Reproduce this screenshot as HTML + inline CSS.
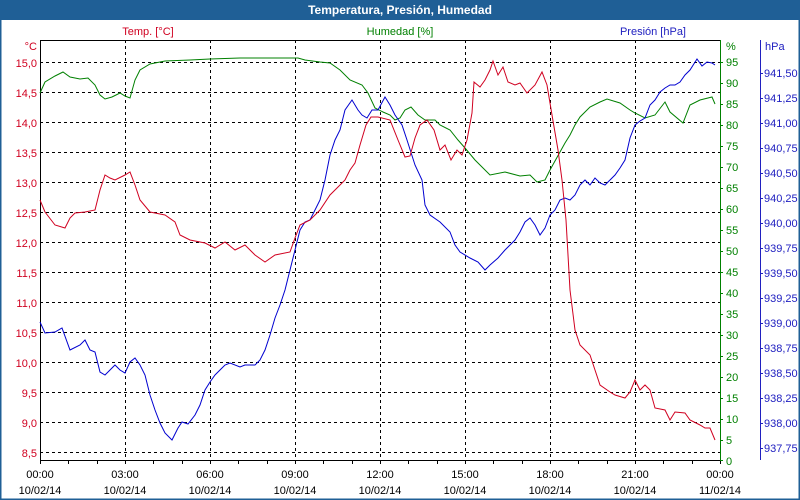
<!DOCTYPE html>
<html><head><meta charset="utf-8"><style>
html,body{margin:0;padding:0;background:#fff;}
svg{display:block;font-family:"Liberation Sans",Tahoma,sans-serif;font-size:11px;}
</style></head><body>
<svg width="800" height="500" viewBox="0 0 800 500" xmlns="http://www.w3.org/2000/svg">
<rect x="0" y="0" width="800" height="500" fill="#fff"/>
<rect x="0" y="0" width="800" height="20" fill="#1f5f96"/>
<rect x="0.5" y="0.5" width="799" height="499" fill="none" stroke="#1f5f96" stroke-width="2"/>
<text x="400" y="14" text-anchor="middle" fill="#fff" font-weight="bold" font-size="12">Temperatura, Presión, Humedad</text>

<text x="148" y="35" text-anchor="middle" fill="#d00020">Temp. [°C]</text>
<text x="400" y="35" text-anchor="middle" fill="#008000">Humedad [%]</text>
<text x="686" y="35" text-anchor="end" fill="#2020c0">Presión [hPa]</text>

<g stroke="#000" stroke-dasharray="3,3" stroke-width="1">
<line x1="40" x2="720" y1="62.5" y2="62.5"/><line x1="40" x2="720" y1="92.5" y2="92.5"/>
<line x1="40" x2="720" y1="122.5" y2="122.5"/><line x1="40" x2="720" y1="152.5" y2="152.5"/>
<line x1="40" x2="720" y1="182.5" y2="182.5"/><line x1="40" x2="720" y1="212.5" y2="212.5"/>
<line x1="40" x2="720" y1="242.5" y2="242.5"/><line x1="40" x2="720" y1="272.5" y2="272.5"/>
<line x1="40" x2="720" y1="302.5" y2="302.5"/><line x1="40" x2="720" y1="332.5" y2="332.5"/>
<line x1="40" x2="720" y1="362.5" y2="362.5"/><line x1="40" x2="720" y1="392.5" y2="392.5"/>
<line x1="40" x2="720" y1="422.5" y2="422.5"/><line x1="40" x2="720" y1="452.5" y2="452.5"/>
<line y1="40" y2="460" x1="125.5" x2="125.5"/><line y1="40" y2="460" x1="210.5" x2="210.5"/>
<line y1="40" y2="460" x1="295.5" x2="295.5"/><line y1="40" y2="460" x1="380.5" x2="380.5"/>
<line y1="40" y2="460" x1="465.5" x2="465.5"/><line y1="40" y2="460" x1="550.5" x2="550.5"/>
<line y1="40" y2="460" x1="635.5" x2="635.5"/>
</g>
<line x1="40" x2="720" y1="40.5" y2="40.5" stroke="#000"/>
<line x1="40.5" x2="40.5" y1="40" y2="461" stroke="#000"/>
<line x1="40" x2="720" y1="460.5" y2="460.5" stroke="#000"/>
<line x1="720.5" x2="720.5" y1="40" y2="461" stroke="#008000"/>
<line x1="760.5" x2="760.5" y1="40" y2="460" stroke="#2020c0"/>
<g stroke="#000">
<path d="M40.5 460v4M68.5 460v4M97.5 460v4M125.5 460v4M153.5 460v4M182.5 460v4M210.5 460v4M238.5 460v4M267.5 460v4M295.5 460v4M323.5 460v4M352.5 460v4M380.5 460v4M408.5 460v4M437.5 460v4M465.5 460v4M493.5 460v4M522.5 460v4M550.5 460v4M578.5 460v4M607.5 460v4M635.5 460v4M663.5 460v4M692.5 460v4M720.5 460v4"/>
</g>
<g fill="#d00020" text-anchor="end">
<text x="37" y="50">°C</text>
<text x="37" y="67">15,0</text><text x="37" y="97">14,5</text><text x="37" y="127">14,0</text>
<text x="37" y="157">13,5</text><text x="37" y="187">13,0</text><text x="37" y="217">12,5</text>
<text x="37" y="247">12,0</text><text x="37" y="277">11,5</text><text x="37" y="307">11,0</text>
<text x="37" y="337">10,5</text><text x="37" y="367">10,0</text><text x="37" y="397">9,5</text>
<text x="37" y="427">9,0</text><text x="37" y="457">8,5</text>
</g>
<g fill="#008000">
<text x="726" y="50">%</text>
<text x="726" y="66">95</text><text x="726" y="87">90</text><text x="726" y="108">85</text>
<text x="726" y="129">80</text><text x="726" y="150">75</text><text x="726" y="171">70</text>
<text x="726" y="192">65</text><text x="726" y="213">60</text><text x="726" y="234">55</text>
<text x="726" y="255">50</text><text x="726" y="276">45</text><text x="726" y="297">40</text>
<text x="726" y="318">35</text><text x="726" y="339">30</text><text x="726" y="360">25</text>
<text x="726" y="381">20</text><text x="726" y="402">15</text><text x="726" y="423">10</text>
<text x="726" y="444">5</text><text x="726" y="465">0</text>
</g>
<g stroke="#008000"><path d="M720 62.5h3M720 83.5h3M720 104.5h3M720 125.5h3M720 146.5h3M720 167.5h3M720 188.5h3M720 209.5h3M720 230.5h3M720 251.5h3M720 272.5h3M720 293.5h3M720 314.5h3M720 335.5h3M720 356.5h3M720 377.5h3M720 398.5h3M720 419.5h3M720 440.5h3M720 460.5h3"/></g>
<g fill="#2020c0">
<text x="765" y="50">hPa</text>
<text x="764" y="77">941,50</text><text x="764" y="102">941,25</text><text x="764" y="127">941,00</text>
<text x="764" y="152">940,75</text><text x="764" y="177">940,50</text><text x="764" y="202">940,25</text>
<text x="764" y="227">940,00</text><text x="764" y="252">939,75</text><text x="764" y="277">939,50</text>
<text x="764" y="302">939,25</text><text x="764" y="327">939,00</text><text x="764" y="352">938,75</text>
<text x="764" y="377">938,50</text><text x="764" y="402">938,25</text><text x="764" y="427">938,00</text>
<text x="764" y="452">937,75</text>
</g>
<g stroke="#2020c0"><path d="M760 73.5h3M760 98.5h3M760 123.5h3M760 148.5h3M760 173.5h3M760 198.5h3M760 223.5h3M760 248.5h3M760 273.5h3M760 298.5h3M760 323.5h3M760 348.5h3M760 373.5h3M760 398.5h3M760 423.5h3M760 448.5h3"/></g>
<g fill="#000" text-anchor="middle">
<text x="40" y="478">00:00</text><text x="40" y="494">10/02/14</text>
<text x="125" y="478">03:00</text><text x="125" y="494">10/02/14</text>
<text x="210" y="478">06:00</text><text x="210" y="494">10/02/14</text>
<text x="295" y="478">09:00</text><text x="295" y="494">10/02/14</text>
<text x="380" y="478">12:00</text><text x="380" y="494">10/02/14</text>
<text x="465" y="478">15:00</text><text x="465" y="494">10/02/14</text>
<text x="550" y="478">18:00</text><text x="550" y="494">10/02/14</text>
<text x="635" y="478">21:00</text><text x="635" y="494">10/02/14</text>
<text x="720" y="478">00:00</text><text x="720" y="494">11/02/14</text>
</g>
<polyline fill="none" stroke="#008000" stroke-width="1" points="40,93 45,82 55,76 63,72 70,77 80,79 88,78 95,85 100,95 105,99 112,97 120,93 125,96 130,98 135,80 140,70 150,64 165,61 190,60 210,59 240,58 270,58 298,58 305,60 320,62 330,63 340,70 350,80 362,85 368,93 375,108 383,112 390,115 395,120 400,118 405,110 411,107 418,115 425,120 435,120 440,125 450,130 458,140 465,148 475,160 490,175 505,172 520,176 530,175 537,182 545,180 550,170 560,152 565,143 570,135 575,125 580,117 590,107 600,102 607,99 620,103 630,110 635,113 645,118 655,115 665,102 670,112 683,123 690,105 700,100 712,97 715,104"/>
<polyline fill="none" stroke="#0000d0" stroke-width="1" points="40,322 45,333 55,332 62,328 70,350 80,345 85,340 90,350 95,352 100,372 105,375 110,370 115,365 120,370 125,373 130,362 135,358 140,365 145,375 150,395 155,410 160,423 165,433 172,440 178,428 182,422 188,424 195,415 200,405 205,390 210,382 215,375 220,370 225,365 230,363 240,367 245,365 255,365 260,360 265,350 270,335 275,318 280,305 285,290 290,270 295,250 300,230 305,222 310,220 315,210 320,200 325,180 330,155 335,140 340,130 345,110 352,100 358,110 362,115 367,118 372,110 378,110 385,97 390,105 395,115 402,125 407,140 415,165 422,180 425,205 430,215 440,222 450,232 455,245 460,252 470,258 478,262 485,270 490,265 498,258 505,250 510,245 515,240 520,232 525,222 530,218 535,225 540,235 545,228 550,215 555,210 560,200 565,198 570,200 575,195 580,185 585,180 590,185 595,178 600,183 605,185 610,180 615,175 620,168 625,160 630,138 635,125 640,121 645,118 650,105 655,100 660,92 665,88 670,85 675,85 680,82 685,75 690,70 697,59 702,66 707,62 712,63 715,65"/>
<polyline fill="none" stroke="#d00020" stroke-width="1" points="40,200 45,212 55,225 65,228 70,218 75,213 85,212 95,210 100,190 105,175 110,178 115,180 125,175 130,172 135,185 140,200 150,212 165,215 175,222 180,235 190,240 205,243 215,248 225,242 235,250 245,245 255,255 265,262 275,255 290,252 295,238 300,225 310,220 320,210 330,195 340,185 345,180 350,170 355,163 360,145 366,125 371,117 378,117 390,120 398,140 405,157 410,156 415,138 420,125 427,120 434,130 440,150 445,145 451,160 457,150 462,155 467,140 472,113 474,82 480,87 485,80 490,70 493,61 498,75 503,67 508,82 515,85 520,83 527,93 535,85 542,72 547,85 552,115 558,150 562,180 566,220 570,290 575,330 580,345 590,355 595,370 600,385 610,392 615,395 625,398 630,392 635,380 640,390 645,385 650,390 655,408 665,410 670,420 675,412 685,413 690,420 700,425 705,428 710,428 715,440"/>
</svg>
</body></html>
